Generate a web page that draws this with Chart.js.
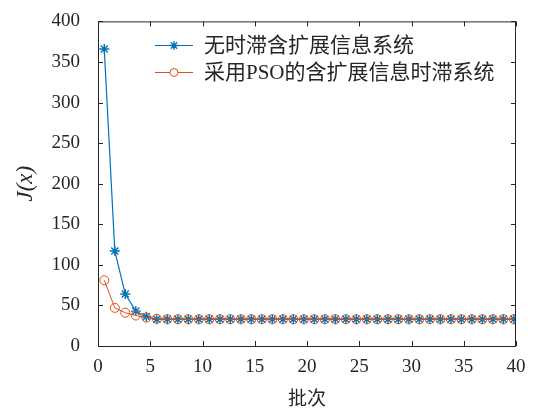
<!DOCTYPE html>
<html>
<head>
<meta charset="utf-8">
<script src="https://cdn.jsdelivr.net/npm/chart.js@4.4.0/dist/chart.umd.min.js"></script>
<style>
  html, body { margin: 0; padding: 0; background: #fff; }
  #wrap { width: 534px; height: 415px; }
</style>
</head>
<body>
<div id="wrap"><canvas id="chart" width="534" height="415"></canvas></div>
<script>
// batch positions (x) and the two cost curves J(x)
var batches = [0.60, 1.61, 2.61, 3.62, 4.62, 5.63, 6.63, 7.64, 8.64, 9.65,
  10.65, 11.66, 12.66, 13.67, 14.67, 15.68, 16.68, 17.69, 18.69, 19.70,
  20.70, 21.71, 22.71, 23.72, 24.72, 25.73, 26.73, 27.74, 28.74, 29.75,
  30.75, 31.76, 32.76, 33.77, 34.77, 35.78, 36.78, 37.79, 38.79, 39.80]

var noDelay = [366, 117, 64, 43, 36, 33, 33, 33, 33, 33,
  33, 33, 33, 33, 33, 33, 33, 33, 33, 33,
  33, 33, 33, 33, 33, 33, 33, 33, 33, 33,
  33, 33, 33, 33, 33, 33, 33, 33, 33, 33]

var psoDelay = [81, 47, 41, 37.5, 35, 33.5, 33, 33, 33, 33,
  33, 33, 33, 33, 33, 33, 33, 33, 33, 33,
  33, 33, 33, 33, 33, 33, 33, 33, 33, 33,
  33, 33, 33, 33, 33, 33, 33, 33, 33, 33]

var seriesNames = ['无时滞含扩展信息系统', '采用PSO的含扩展信息时滞系统']
var xTitle = '批次'
var yTitle = 'J(x)'

var blue = '#0072BD'
var red = '#D95319'
var fontFam = '"Liberation Serif", "Times New Roman", "Noto Sans CJK SC", serif'

function toPoints(xs, ys) {
  var out = []
  for (var i = 0; i < xs.length; i++) out.push({ x: xs[i], y: ys[i] })
  return out
}

// box around plot + inward ticks on all four sides (MATLAB style)
var framePlugin = {
  id: 'frame',
  afterDraw: function (chart) {
    var ctx = chart.ctx, a = chart.chartArea
    var xs = chart.scales.x, ys = chart.scales.y
    ctx.save()
    ctx.strokeStyle = '#262626'
    ctx.lineWidth = 1
    ctx.strokeRect(a.left + 0.5, a.top + 0.5, a.right - a.left - 1, a.bottom - a.top)
    ctx.beginPath()
    xs.ticks.forEach(function (t) {
      var px = Math.round(xs.getPixelForValue(t.value)) + 0.5
      ctx.moveTo(px, a.bottom); ctx.lineTo(px, a.bottom - 5)
      ctx.moveTo(px, a.top); ctx.lineTo(px, a.top + 5)
    })
    ys.ticks.forEach(function (t) {
      var py = Math.round(ys.getPixelForValue(t.value)) + 0.5
      ctx.moveTo(a.left, py); ctx.lineTo(a.left + 5, py)
      ctx.moveTo(a.right, py); ctx.lineTo(a.right - 5, py)
    })
    ctx.stroke()
    ctx.restore()
  }
}

// legend drawn inside the plot area, no box
var legendPlugin = {
  id: 'innerLegend',
  afterDraw: function (chart) {
    var ctx = chart.ctx
    var rows = [
      { ds: chart.data.datasets[0], y: 45 },
      { ds: chart.data.datasets[1], y: 72 }
    ]
    ctx.save()
    rows.forEach(function (r) {
      ctx.strokeStyle = r.ds.borderColor
      ctx.lineWidth = 1
      ctx.beginPath()
      ctx.moveTo(155, r.y + 0.5); ctx.lineTo(193, r.y + 0.5)
      ctx.stroke()
      if (r.ds.pointStyle === 'circle') {
        ctx.fillStyle = '#fff'
        ctx.beginPath(); ctx.arc(174, r.y + 0.5, 4, 0, Math.PI * 2); ctx.fill(); ctx.stroke()
      } else {
        ctx.lineWidth = 1.3
        Chart.helpers.drawPoint(ctx, {
          pointStyle: r.ds.pointStyle, radius: 4.5, rotation: 0, borderWidth: 1.3
        }, 174, r.y + 0.5)
      }
      ctx.fillStyle = '#262626'
      ctx.font = '21px ' + fontFam
      ctx.textBaseline = 'middle'
      ctx.fillText(r.ds.label, 204, r.y + 1)
    })
    ctx.restore()
  }
}

var ctx = document.getElementById('chart').getContext('2d')
var chart = new Chart(ctx, {
  type: 'line',
  data: {
    datasets: [{
      label: seriesNames[0],
      data: toPoints(batches, noDelay),
      borderColor: blue,
      backgroundColor: blue,
      borderWidth: 1.2,
      pointStyle: 'star',
      pointRadius: 5,
      pointBorderWidth: 1.4,
      order: 1
    }, {
      label: seriesNames[1],
      data: toPoints(batches, psoDelay),
      borderColor: red,
      backgroundColor: 'rgba(0,0,0,0)',
      borderWidth: 1,
      pointStyle: 'circle',
      pointRadius: 4.5,
      pointBorderWidth: 1,
      order: 0
    }]
  },
  options: {
    animation: false,
    responsive: false,
    layout: { padding: { top: 17, right: 18, left: 0, bottom: 0 } },
    plugins: { legend: { display: false }, tooltip: { enabled: false } },
    scales: {
      x: {
        type: 'linear', min: 0, max: 40,
        border: { display: false },
        grid: { display: false },
        ticks: { stepSize: 5, color: '#262626', padding: 2, maxRotation: 0,
          font: { family: fontFam, size: 19 } },
        title: { display: true, text: xTitle, color: '#262626', padding: { top: 10 },
          font: { family: fontFam, size: 19 } },
        afterFit: function (s) { s.height = 69 }
      },
      y: {
        min: 0, max: 400,
        border: { display: false },
        grid: { display: false },
        ticks: { stepSize: 50, color: '#262626', padding: 10,
          font: { family: fontFam, size: 19 } },
        title: { display: true, text: yTitle, color: '#262626', padding: { top: 12, bottom: 0 },
          font: { family: fontFam, size: 23, style: 'italic' } },
        afterFit: function (s) { s.width = 98 }
      }
    }
  },
  plugins: [framePlugin, legendPlugin]
})
</script>
</body>
</html>
